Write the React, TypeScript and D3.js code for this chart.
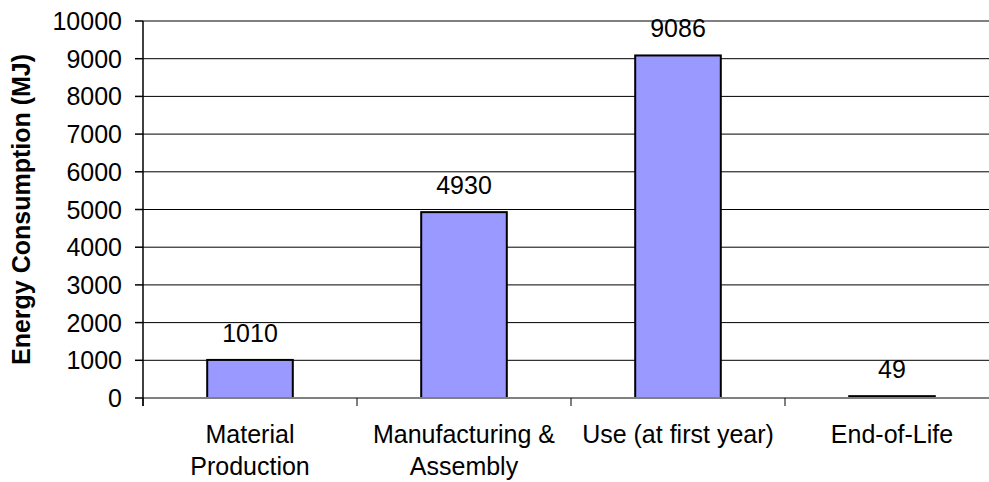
import React from "react";
import * as d3 from "d3";

const categories: string[][] = [
  ["Material", "Production"],
  ["Manufacturing &", "Assembly"],
  ["Use (at first year)"],
  ["End-of-Life"],
];
const values: number[] = [1010, 4930, 9086, 49];
const yTicks: number[] = [0, 1000, 2000, 3000, 4000, 5000, 6000, 7000, 8000, 9000, 10000];
const yTitle = "Energy Consumption (MJ)";

export default function App() {
  const W = 989, H = 482;
  const left = 143, right = 999, top = 21, bottom = 398;
  const x = d3.scaleBand<number>().domain(d3.range(values.length)).range([left, right]).paddingInner(0).paddingOuter(0);
  const y = d3.scaleLinear().domain([0, 10000]).range([bottom, top]);
  const bw = x.bandwidth() * 0.4;
  const font = "Arial, 'Liberation Sans', sans-serif";
  return (
    <svg width={W} height={H} style={{ position: "absolute", left: 0, top: 0, background: "#fff" }} fontFamily={font}>
      {yTicks.slice(1).map((t) => (
        <line key={"g" + t} x1={left} x2={right} y1={y(t)} y2={y(t)} stroke={t === 10000 ? "#808080" : "#000"} strokeWidth={t === 10000 ? 2 : 1} />
      ))}
      {values.map((v, i) => (
        <rect key={"b" + i} x={x(i)! + (x.bandwidth() - bw) / 2} y={y(v)} width={bw} height={bottom - y(v)} fill="#9999FF" stroke="#000" strokeWidth={2} />
      ))}
      {values.map((v, i) => (
        <text key={"v" + i} x={x(i)! + x.bandwidth() / 2} y={y(v) - 18} textAnchor="middle" fontSize={25} fill="#000">{v}</text>
      ))}
      <line x1={left} x2={right} y1={bottom} y2={bottom} stroke="#808080" strokeWidth={2} />
      <line x1={left} x2={left} y1={top} y2={bottom + 8} stroke="#000" strokeWidth={1.5} />
      {yTicks.map((t) => (
        <g key={"t" + t}>
          <line x1={left - 8} x2={left} y1={y(t)} y2={y(t)} stroke="#000" strokeWidth={1.5} />
          <text x={122} y={y(t)} dy="0.36em" textAnchor="end" fontSize={25} fill="#000">{t}</text>
        </g>
      ))}
      {d3.range(values.length + 1).map((i) => {
        const xx = i < values.length ? x(i)! : right;
        return <line key={"c" + i} x1={xx} x2={xx} y1={bottom} y2={bottom + 8} stroke="#000" strokeWidth={1} />;
      })}
      {categories.map((lines, i) => (
        <text key={"l" + i} x={x(i)! + x.bandwidth() / 2} y={443} textAnchor="middle" fontSize={25} fill="#000">
          {lines.map((s, j) => (
            <tspan key={j} x={x(i)! + x.bandwidth() / 2} dy={j === 0 ? 0 : 32}>{s}</tspan>
          ))}
        </text>
      ))}
      <text transform={`translate(30, ${(top + bottom) / 2}) rotate(-90)`} textAnchor="middle" fontSize={25} fontWeight="bold" fill="#000">{yTitle}</text>
    </svg>
  );
}
